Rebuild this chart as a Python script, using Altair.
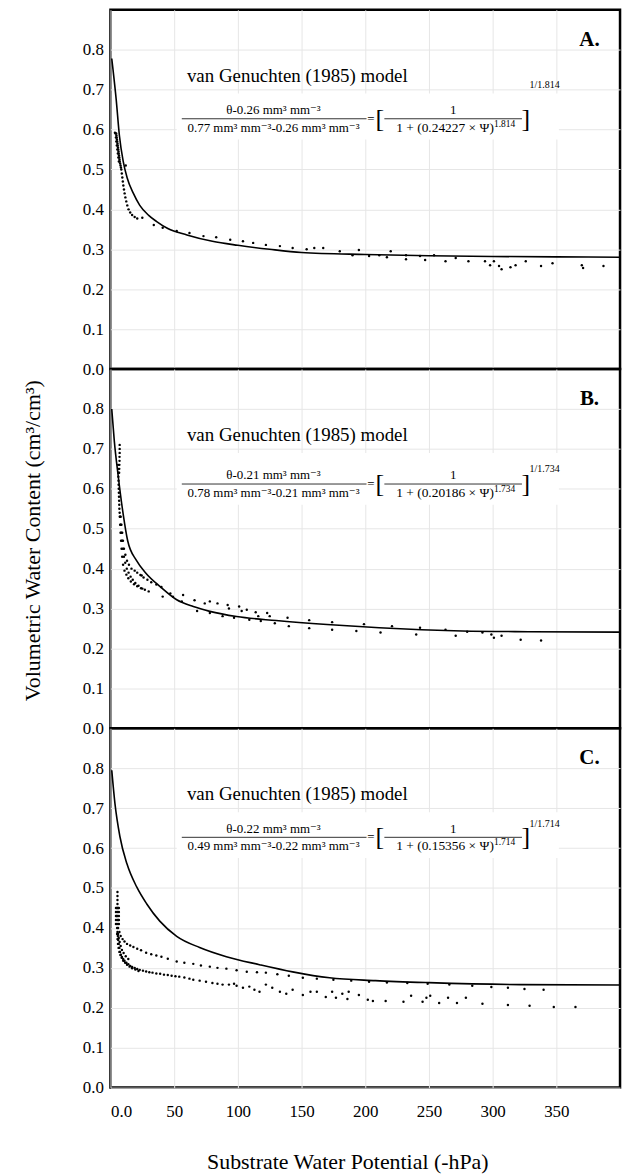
import altair as alt
import pandas as pd

FONT = "Liberation Serif, Times New Roman, Times, DejaVu Serif, serif"

# ---------------- data ----------------
PANEL_LABELS = ["A.", "B.", "C."]
THETA_R = ["0.26", "0.21", "0.22"]
THETA_S = ["0.77", "0.78", "0.49"]
ALPHA = ["0.24227", "0.20186", "0.15356"]
N_EXP = ["1.814", "1.734", "1.714"]
MODEL_TITLE = "van Genuchten (1985) model"
X_TITLE = "Substrate Water Potential (-hPa)"
Y_TITLE = "Volumetric Water Content (cm\u00b3/cm\u00b3)"
X_TICKS = [0, 50, 100, 150, 200, 250, 300, 350]
Y_TICKS = [0.0, 0.1, 0.2, 0.3, 0.4, 0.5, 0.6, 0.7, 0.8]

# model curves
line_A_psi = [1, 2, 4.5, 7, 10, 13, 18, 23, 30, 36, 45, 60, 80, 100, 125, 150, 200, 250, 300, 350, 400]
line_A_theta = [0.778, 0.75, 0.675, 0.585, 0.52, 0.48, 0.44, 0.41, 0.385, 0.37, 0.352, 0.336, 0.32, 0.31,
                0.3, 0.292, 0.287, 0.284, 0.282, 0.281, 0.28]
line_B_psi = [1, 3, 6, 10, 13.5, 20.5, 28, 39, 52, 65, 78, 99, 130, 170, 211, 276, 328, 400]
line_B_theta = [0.80, 0.72, 0.634, 0.536, 0.47, 0.42, 0.388, 0.355, 0.322, 0.305, 0.293, 0.28, 0.27,
                0.26, 0.252, 0.244, 0.242, 0.241]
line_C_psi = [1, 3.5, 7.4, 13, 20.7, 28.5, 38.7, 52, 70, 91, 117, 143, 172, 208, 250, 322, 400]
line_C_theta = [0.795, 0.712, 0.629, 0.56, 0.502, 0.46, 0.417, 0.379, 0.351, 0.328, 0.308, 0.29, 0.275,
                0.268, 0.263, 0.258, 0.257]

# observed points
dots_A_psi = [3.5, 4.0, 4.3, 4.6, 5.0, 5.4, 5.8, 6.2, 6.6,
              4.5, 4.7, 4.9, 5.1, 5.3, 5.5, 5.7, 5.9, 6.1, 6.3, 6.5, 6.7, 6.9, 7.1, 7.3, 7.6, 7.9, 8.2,
              8.5, 8.9, 9.3, 9.7, 10.1, 10.6, 11.1, 11.7, 12.4, 13.2, 14.2, 15.5, 17, 19, 21, 12,
              25, 34, 41, 52, 62, 73, 83, 94, 104, 112, 122, 133, 143, 154, 160, 167, 180, 190, 195,
              203, 211, 217, 220, 232, 232, 243, 247, 254, 263, 271, 281, 294, 298, 301, 305, 307,
              314, 318, 326, 338, 347, 370, 371, 387]
dots_A_theta = [0.592, 0.59, 0.58, 0.57, 0.56, 0.55, 0.54, 0.53, 0.52,
                0.59, 0.585, 0.58, 0.575, 0.57, 0.565, 0.56, 0.555, 0.55, 0.545, 0.54, 0.535, 0.53,
                0.525, 0.52, 0.515, 0.51, 0.505, 0.50, 0.49, 0.48, 0.47, 0.46, 0.45, 0.44, 0.43, 0.42,
                0.41, 0.40, 0.392, 0.386, 0.381, 0.377, 0.51,
                0.379, 0.361, 0.354, 0.346, 0.341, 0.333, 0.33, 0.324, 0.32, 0.316, 0.311, 0.308,
                0.303, 0.30, 0.303, 0.303, 0.295, 0.285, 0.298, 0.283, 0.285, 0.28, 0.295, 0.285,
                0.275, 0.283, 0.273, 0.285, 0.27, 0.278, 0.27, 0.27, 0.26, 0.27, 0.258, 0.25, 0.255,
                0.26, 0.27, 0.258, 0.265, 0.26, 0.253, 0.258]

dots_B_psi = [7.2, 7.2, 7.2, 7.1, 7.1, 7.0, 6.9, 6.8,
              6.0, 6.0, 6.1, 6.2, 6.3, 6.4, 6.5, 6.6, 6.7, 6.8, 6.9, 7.0, 7.2,
              7.3, 7.6, 7.9, 8.3, 8.7, 9.2, 9.9, 11, 12.5, 14, 16, 18.5, 21, 24, 27, 30,
              7.6, 8.0, 8.5, 9.1, 9.8, 10.6, 11.6, 12.8, 14.2, 15.8, 17.5, 19.5, 22, 25,
              8.0, 8.6, 9.2, 9.8, 10.6, 11.7, 13, 14.5, 16.5, 19, 21, 23.5, 26, 29, 32, 36, 40,
              24.5, 41, 47, 49, 56, 57, 66, 74, 78, 84, 92, 93, 101, 103, 107, 114, 116, 123, 125,
              129, 139, 140, 156, 156, 174, 174, 193, 199, 212, 221, 240, 243, 263, 271, 280, 292,
              299, 301, 307, 322, 338, 68, 78, 88, 97, 109, 118]
dots_B_theta = [0.71, 0.70, 0.69, 0.68, 0.67, 0.66, 0.65, 0.64,
                0.66, 0.65, 0.64, 0.63, 0.62, 0.61, 0.60, 0.59, 0.58, 0.57, 0.56, 0.55, 0.54,
                0.53, 0.51, 0.49, 0.47, 0.45, 0.43, 0.41, 0.395, 0.385, 0.376, 0.368, 0.361, 0.356,
                0.351, 0.347, 0.343,
                0.53, 0.51, 0.49, 0.47, 0.45, 0.43, 0.415, 0.40, 0.39, 0.38, 0.372, 0.364, 0.357, 0.35,
                0.53, 0.51, 0.49, 0.47, 0.45, 0.435, 0.42, 0.41, 0.40, 0.395, 0.39, 0.384, 0.378,
                0.372, 0.366, 0.36, 0.354,
                0.383, 0.33, 0.338, 0.33, 0.318, 0.334, 0.321, 0.313, 0.318, 0.313, 0.309, 0.30,
                0.305, 0.294, 0.297, 0.291, 0.281, 0.289, 0.281, 0.263, 0.277, 0.256, 0.271, 0.251,
                0.266, 0.247, 0.244, 0.261, 0.24, 0.256, 0.235, 0.252, 0.247, 0.232, 0.242, 0.24,
                0.235, 0.227, 0.232, 0.222, 0.22, 0.294, 0.289, 0.281, 0.277, 0.272, 0.269]

dots_C_psi = [5.5, 5.5, 5.5, 5.5, 5.4, 5.4, 5.3, 5.3, 5.2, 5.2,
              4.3, 4.3, 4.3, 4.3, 4.3, 6.6, 6.6, 6.6, 6.6, 6.6, 5.0, 6.0, 5.0, 6.0,
              6, 7, 8, 9.5, 11, 13, 15.5, 18, 21, 24, 28, 32, 36, 40, 45, 52, 58, 65, 71, 78, 84,
              91, 99, 107, 115, 122, 131, 140, 151, 162, 175, 189, 203, 217, 233, 249, 266, 284,
              299, 312, 325, 340,
              5.5, 5.8, 6.1, 6.5, 7, 7.5, 8.2, 9, 10, 11, 12.5, 14, 15.5, 17, 19, 21, 23, 25.5, 28,
              30.5, 33, 36, 39, 42, 45, 48, 51, 54, 58, 62, 65, 70, 75, 80, 84, 88, 93, 97, 99, 104,
              109, 113, 117, 122, 127, 133, 138, 143, 151, 157, 162, 169, 174, 177, 182, 186, 187,
              195, 202, 206, 216, 230, 236, 245, 248, 251, 258, 265, 272, 279, 292, 312, 329, 348, 365,
              5.2, 5.5, 5.9, 6.4, 7, 7.8, 8.8, 10, 11.5, 13, 15, 17, 19.5, 22,
              6, 6.5, 7.2, 8, 9, 10.3, 12, 14]
dots_C_theta = [0.49, 0.48, 0.47, 0.46, 0.45, 0.44, 0.43, 0.42, 0.41, 0.40,
                0.45, 0.44, 0.43, 0.42, 0.41, 0.45, 0.44, 0.43, 0.42, 0.41, 0.45, 0.45, 0.43, 0.42,
                0.40, 0.39, 0.38, 0.372, 0.366, 0.36, 0.356, 0.352, 0.348, 0.344, 0.338, 0.334,
                0.331, 0.328, 0.323, 0.316, 0.313, 0.31, 0.306, 0.303, 0.30, 0.298, 0.294, 0.29,
                0.289, 0.288, 0.284, 0.28, 0.275, 0.273, 0.27, 0.268, 0.265, 0.263, 0.262, 0.26,
                0.258, 0.255, 0.252, 0.25, 0.247, 0.245,
                0.39, 0.38, 0.37, 0.36, 0.35, 0.34, 0.333, 0.327, 0.322, 0.318, 0.313, 0.309, 0.305,
                0.302, 0.30, 0.297, 0.295, 0.293, 0.291, 0.289, 0.288, 0.286, 0.285, 0.283, 0.282,
                0.28, 0.279, 0.278, 0.276, 0.273, 0.27, 0.268, 0.265, 0.262, 0.26, 0.258, 0.258,
                0.26, 0.255, 0.25, 0.253, 0.245, 0.24, 0.258, 0.25, 0.24, 0.235, 0.245, 0.232, 0.24,
                0.24, 0.227, 0.24, 0.225, 0.235, 0.222, 0.24, 0.232, 0.22, 0.217, 0.217, 0.215, 0.23,
                0.215, 0.225, 0.23, 0.212, 0.225, 0.212, 0.225, 0.21, 0.207, 0.205, 0.202, 0.202,
                0.385, 0.372, 0.36, 0.35, 0.34, 0.332, 0.325, 0.318, 0.313, 0.308, 0.303, 0.299,
                0.296, 0.292,
                0.385, 0.375, 0.365, 0.355, 0.345, 0.337, 0.329, 0.322]

LINES = [(line_A_psi, line_A_theta), (line_B_psi, line_B_theta), (line_C_psi, line_C_theta)]
DOTS = [(dots_A_psi, dots_A_theta), (dots_B_psi, dots_B_theta), (dots_C_psi, dots_C_theta)]

W, H = 512, 361
SUP_RAISE = [0.085, 0.038, 0.034]
EQ_SHIFT = [0.0, -0.015, 0.0]


def enc_x(show_labels):
    if show_labels:
        ax = alt.Axis(values=X_TICKS, labels=True,
                      labelExpr="datum.value == 0 ? '0.0' : datum.label",
                      labelPadding=16, titlePadding=32, title=X_TITLE,
                      titleX=238, titleAlign="center")
    else:
        ax = alt.Axis(values=X_TICKS, labels=False, labelPadding=0, minExtent=0, maxExtent=0,
                      title=None)
    return alt.X("psi:Q", scale=alt.Scale(domain=[0, 400], nice=False, zero=False), axis=ax)


def enc_y(show_title):
    if show_title:
        ax = alt.Axis(values=Y_TICKS, format=".1f", labelPadding=7, titlePadding=38,
                      title=Y_TITLE, titleY=172, titleAlign="center")
    else:
        ax = alt.Axis(values=Y_TICKS, format=".1f", labelPadding=7, title=None)
    return alt.Y("theta:Q", scale=alt.Scale(domain=[0, 0.9], nice=False), axis=ax)


def panel(i):
    show_x = i == 2
    X = enc_x(show_x)
    Y = enc_y(i == 1)
    lp, lt = LINES[i]
    dp, dt = DOTS[i]
    line_df = pd.DataFrame({"psi": lp, "theta": lt})
    dot_df = pd.DataFrame({"psi": dp, "theta": dt})
    s = EQ_SHIFT[i]

    box = alt.Chart(pd.DataFrame({"psi": [52], "psi2": [352], "theta": [0.575 + s],
                                  "theta2": [0.69]})).mark_rect(
        color="white").encode(x=X, x2="psi2:Q", y=Y, y2="theta2:Q")

    bars = alt.Chart(pd.DataFrame({"psi": [56, 215], "psi2": [201, 323],
                                   "theta": [0.627 + s, 0.627 + s]})).mark_rule(
        color="#333333", strokeWidth=1).encode(x=X, x2="psi2:Q", y=Y)

    def texts(rows, **kw):
        df = pd.DataFrame(rows, columns=["psi", "theta", "t", "fs"])
        return alt.Chart(df).mark_text(font=FONT, color="black", baseline="middle", **kw).encode(
            x=X, y=Y, text="t:N", size=alt.Size("fs:Q", scale=None, legend=None))

    num = f"\u03b8-{THETA_R[i]} mm\u00b3  mm\u207b\u00b3"
    den = f"{THETA_S[i]}  mm\u00b3  mm\u207b\u00b3-{THETA_R[i]}  mm\u00b3  mm\u207b\u00b3"
    center_txt = texts([
        (128, 0.649 + s, num, 13),
        (128, 0.605 + s, den, 13),
        (204.5, 0.627 + s, "=", 13),
        (211.5, 0.627 + s, "[", 26),
        (269, 0.649 + s, "1", 13),
        (326, 0.627 + s, "]", 26),
    ], align="center", fontWeight="normal")
    right_txt = texts([
        (301, 0.605 + s, f"1 + ({ALPHA[i]}  \u00d7  \u03a8)", 13.5),
    ], align="right")
    left_txt = texts([
        (301, 0.615 + s, N_EXP[i], 9.5),
        (329, 0.627 + s + SUP_RAISE[i], f"1/{N_EXP[i]}", 10),
        (60, 0.735, MODEL_TITLE, 19),
    ], align="left")
    label = texts([(376, 0.825, PANEL_LABELS[i], 21)], align="center", fontWeight="bold")

    line = alt.Chart(line_df).mark_line(color="black", strokeWidth=1.6, interpolate="monotone").encode(
        x=X, y=Y)
    dots = alt.Chart(dot_df).mark_circle(color="black", size=6, opacity=1).encode(x=X, y=Y)

    return alt.layer(box, bars, line, dots, center_txt, right_txt, left_txt, label).properties(
        width=W, height=H)


chart = alt.vconcat(panel(0), panel(1), panel(2), spacing=0, bounds="flush").properties(
    padding={"left": 20, "top": 5, "right": 2, "bottom": 0}
).configure_view(
    stroke="black", strokeWidth=2.5
).configure_axis(
    grid=True, gridColor="#e6e6e6", gridWidth=1, domain=False, ticks=False,
    labelFont=FONT, titleFont=FONT, labelFontSize=17, titleFontSize=22,
    titleFontWeight="normal", labelColor="black", titleColor="black"
)

chart.save("out.html", embed_options={"renderer": "svg", "actions": False})
